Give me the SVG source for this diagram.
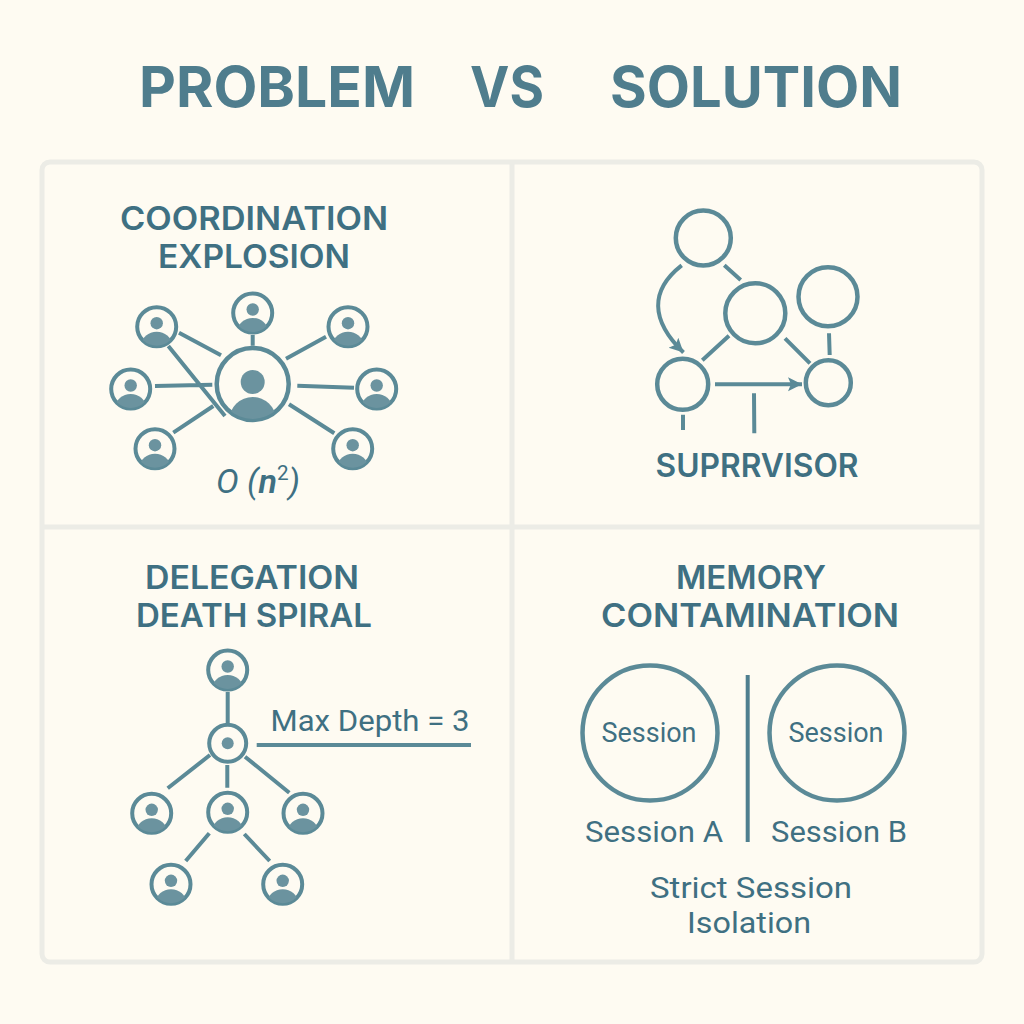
<svg xmlns="http://www.w3.org/2000/svg" xmlns:xlink="http://www.w3.org/1999/xlink" width="1024" height="1024" viewBox="0 0 1024 1024">
<style>
text{font-family:Roboto,"Noto Sans","Liberation Sans",sans-serif;fill:#3f7082;text-anchor:middle}
.title{font-family:Inter,"Noto Sans",sans-serif;font-size:57px;font-weight:700;fill:#4f7d8d}
.head{font-family:Inter,"Noto Sans",sans-serif;font-size:32px;font-weight:600}
.lab{font-size:29.5px}
.ses{font-size:27px}
.ln{fill:none;stroke:#5b8a97;stroke-width:4}
.ring{fill:none;stroke:#5b8a97;stroke-width:4.5}
.panel{fill:none;stroke:#ecece6;stroke-width:5}
</style>
<defs>
<clipPath id="cp"><circle r="19"/></clipPath>
<clipPath id="hubcp"><circle r="35"/></clipPath>
<g id="person">
<circle r="19.5" fill="none" stroke="#5b8a97" stroke-width="4"/>
<circle cy="-3.5" r="6.2" fill="#6b939f"/>
<ellipse cy="18" rx="15" ry="13" fill="#6b939f" clip-path="url(#cp)"/>
</g>
<marker id="arr" markerUnits="userSpaceOnUse" markerWidth="16" markerHeight="16" refX="14" refY="7" orient="auto"><path d="M0,0L14,7L0,14L3,7Z" fill="#5b8a97"/></marker>
</defs>
<rect width="1024" height="1024" fill="#fefbf2"/>
<g id="panels">
<rect class="panel" x="42" y="162" width="940" height="800" rx="8"/>
<path class="panel" d="M512,162V962M42,527H982"/>
</g>
<g id="title">
<text class="title" x="277" y="107" textLength="276" lengthAdjust="spacingAndGlyphs">PROBLEM</text>
<text class="title" x="507" y="107" textLength="74" lengthAdjust="spacingAndGlyphs">VS</text>
<text class="title" x="756" y="107" textLength="292" lengthAdjust="spacingAndGlyphs">SOLUTION</text>
</g>
<g id="connectors">
<path class="ln" d="M179,332.7L221,355.3M168.3,346L225,416M155,386L212.3,384.7M173.3,432.7L213.3,406M252.7,335V345.7M286,358.7L326,336.7M297.3,385.7L354,387.7M289,404.3L334.3,433.3"/>
<path class="ln" d="M724.3,265.3L740.7,280M729,335.7L702.3,360.3M785,338.3L810,363.3M829,333.3L829.7,355M754,393.3L754.3,433.3M683,414.7V430"/>
<path class="ln" d="M715,384.3H802" marker-end="url(#arr)"/>
<path class="ln" d="M681.7,265.3C650,290 650,320 683.5,352.5" marker-end="url(#arr)"/>
<path class="ln" d="M227.7,692V723M210,755L167.7,788.3M227.3,765V787.7M245,756.7L289.3,792.7M209.3,833.3L185.7,861M244.3,834L269.7,861M256.7,745H471"/>
<path class="ln" d="M747.7,675V842" style="stroke:#4f7f8f"/>
</g>
<g id="coordination">
<text class="head" x="254" y="230" textLength="268" lengthAdjust="spacingAndGlyphs">COORDINATION</text>
<text class="head" x="254" y="268" textLength="192" lengthAdjust="spacingAndGlyphs">EXPLOSION</text>
<g id="hub" transform="translate(252.7,384)">
<circle r="36" fill="none" stroke="#5b8a97" stroke-width="4.5"/>
<circle cy="-2" r="12" fill="#6b939f"/>
<ellipse cy="35" rx="23" ry="22" fill="#6b939f" clip-path="url(#hubcp)"/>
</g>
<use id="a1" xlink:href="#person" href="#person" x="156.7" y="326.7"/>
<use id="a2" xlink:href="#person" href="#person" x="252.7" y="313"/>
<use id="a3" xlink:href="#person" href="#person" x="348" y="326.7"/>
<use id="a4" xlink:href="#person" href="#person" x="130.7" y="389"/>
<use id="a5" xlink:href="#person" href="#person" x="376.7" y="389"/>
<use id="a6" xlink:href="#person" href="#person" x="155" y="448.7"/>
<use id="a7" xlink:href="#person" href="#person" x="352.7" y="448.7"/>
<text x="258" y="493" font-size="33" font-style="italic" textLength="84" lengthAdjust="spacingAndGlyphs">O (<tspan font-weight="600">n</tspan><tspan font-size="20" dy="-13" font-style="normal">2</tspan><tspan dy="13">)</tspan></text>
</g>
<g id="supervisor">
<circle class="ring" cx="703.3" cy="238" r="27.5"/>
<circle class="ring" cx="755.3" cy="313.3" r="30"/>
<circle class="ring" cx="828" cy="296.7" r="29.5"/>
<circle class="ring" cx="682.7" cy="384.3" r="25.5"/>
<circle class="ring" cx="828.3" cy="382.7" r="22.5"/>
<text class="head" x="757" y="477" textLength="203" lengthAdjust="spacingAndGlyphs">SUPRRVISOR</text>
</g>
<g id="delegation">
<text class="head" x="252" y="589" textLength="214" lengthAdjust="spacingAndGlyphs">DELEGATION</text>
<text class="head" x="254" y="627" textLength="236" lengthAdjust="spacingAndGlyphs">DEATH SPIRAL</text>
<use id="d1" xlink:href="#person" href="#person" x="227.7" y="670"/>
<g id="d2" transform="translate(227.7,743.3)">
<circle r="18.5" fill="none" stroke="#5b8a97" stroke-width="4"/>
<circle r="6" fill="#6b939f"/>
</g>
<use id="d3" xlink:href="#person" href="#person" x="151.7" y="813.3"/>
<use id="d4" xlink:href="#person" href="#person" x="227.7" y="812.3"/>
<use id="d5" xlink:href="#person" href="#person" x="303" y="813.3"/>
<use id="d6" xlink:href="#person" href="#person" x="171" y="884.3"/>
<use id="d7" xlink:href="#person" href="#person" x="282.7" y="884.3"/>
<text class="lab" x="370" y="731" textLength="199" lengthAdjust="spacingAndGlyphs">Max Depth = 3</text>
</g>
<g id="memory">
<text class="head" x="751" y="589" textLength="150" lengthAdjust="spacingAndGlyphs">MEMORY</text>
<text class="head" x="750" y="627" textLength="298" lengthAdjust="spacingAndGlyphs">CONTAMINATION</text>
<circle class="ring" cx="650" cy="733" r="67.5"/>
<circle class="ring" cx="837" cy="733" r="67.5"/>
<text class="ses" x="649" y="742" textLength="95" lengthAdjust="spacingAndGlyphs">Session</text>
<text class="ses" x="836" y="742" textLength="95" lengthAdjust="spacingAndGlyphs">Session</text>
<text class="lab" x="654" y="842" textLength="138" lengthAdjust="spacingAndGlyphs">Session A</text>
<text class="lab" x="839" y="842" textLength="136" lengthAdjust="spacingAndGlyphs">Session B</text>
<text class="lab" x="751" y="898" textLength="202" lengthAdjust="spacingAndGlyphs">Strict Session</text>
<text class="lab" x="749" y="933" textLength="124" lengthAdjust="spacingAndGlyphs">Isolation</text>
</g>
</svg>
